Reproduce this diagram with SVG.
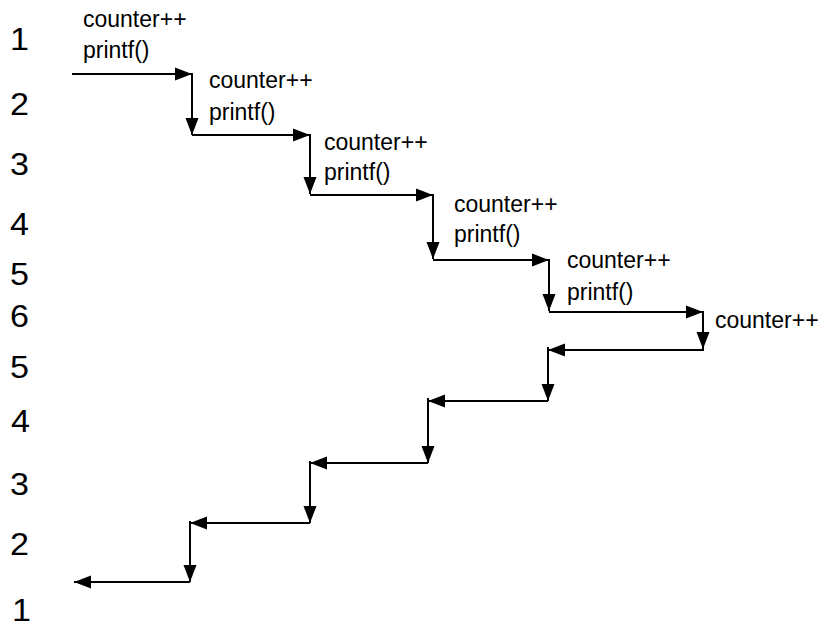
<svg xmlns="http://www.w3.org/2000/svg" width="836" height="628" viewBox="0 0 836 628">
<style>
.lbl{font-family:"Liberation Sans",Arial,sans-serif;font-size:23px;fill:#000}
.num{font-family:"Liberation Sans",Arial,sans-serif;font-size:31px;fill:#000}
.c{fill:none;stroke:#000;stroke-width:2;marker-end:url(#ah)}
</style>
<defs>
<marker id="ah" markerUnits="userSpaceOnUse" markerWidth="18" markerHeight="14" refX="17" refY="7" orient="auto">
<path d="M0,0.5 L17,7 L0,13.5 Z" fill="#000"/>
</marker>
</defs>
<rect width="836" height="628" fill="#fff"/>
<g id="levels">
<text class="num" transform="translate(10,50) scale(1.1,1)">1</text>
<text class="num" transform="translate(10,115) scale(1.1,1)">2</text>
<text class="num" transform="translate(10,175) scale(1.1,1)">3</text>
<text class="num" transform="translate(10,235) scale(1.1,1)">4</text>
<text class="num" transform="translate(10,285) scale(1.1,1)">5</text>
<text class="num" transform="translate(10,327) scale(1.1,1)">6</text>
<text class="num" transform="translate(10,378) scale(1.1,1)">5</text>
<text class="num" transform="translate(11,432) scale(1.1,1)">4</text>
<text class="num" transform="translate(10,495) scale(1.1,1)">3</text>
<text class="num" transform="translate(10,555) scale(1.1,1)">2</text>
<text class="num" transform="translate(12,621) scale(1.1,1)">1</text>
</g>
<g id="call1"><text class="lbl" x="83" y="27">counter++</text><text class="lbl" x="83" y="58">printf()</text></g>
<g id="call2"><text class="lbl" x="209" y="88">counter++</text><text class="lbl" x="209" y="120">printf()</text></g>
<g id="call3"><text class="lbl" x="324" y="150">counter++</text><text class="lbl" x="324" y="180">printf()</text></g>
<g id="call4"><text class="lbl" x="454" y="212">counter++</text><text class="lbl" x="454" y="242">printf()</text></g>
<g id="call5"><text class="lbl" x="567" y="268">counter++</text><text class="lbl" x="567" y="300">printf()</text></g>
<g id="call6"><text class="lbl" x="715" y="328">counter++</text></g>
<g id="connectors">
<path class="c" d="M72,74 H192"/>
<path class="c" d="M192,73 V135"/>
<path class="c" d="M192,135 H310"/>
<path class="c" d="M310,134 V194"/>
<path class="c" d="M310,195 H433"/>
<path class="c" d="M433,194 V259"/>
<path class="c" d="M433,260 H549"/>
<path class="c" d="M549,259 V311"/>
<path class="c" d="M549,312 H703"/>
<path class="c" d="M703,311 V349"/>
<path class="c" d="M704,350 H548"/>
<path class="c" d="M548,347 V401"/>
<path class="c" d="M548,401 H428"/>
<path class="c" d="M428,398 V463"/>
<path class="c" d="M428,463 H310"/>
<path class="c" d="M310,461 V523"/>
<path class="c" d="M310,523 H190"/>
<path class="c" d="M190,521 V582"/>
<path class="c" d="M190,582 H74"/>
</g>
</svg>
